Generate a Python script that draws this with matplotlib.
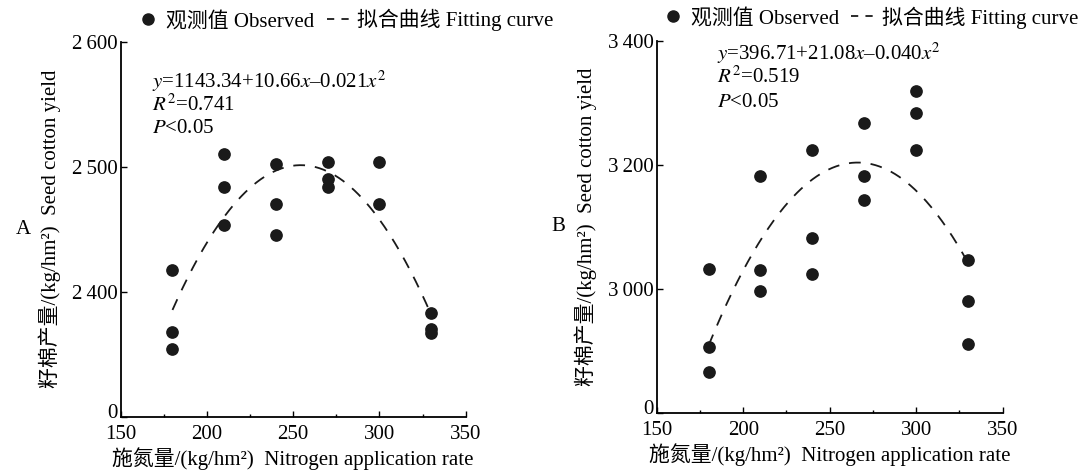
#!/usr/bin/env python3
import numpy as np
import matplotlib
matplotlib.use('Agg')
import matplotlib.pyplot as plt
import matplotlib.transforms as mtrans
from matplotlib.lines import Line2D

plt.rcParams['font.family'] = ['Liberation Serif', 'Noto Sans CJK SC']
plt.rcParams['mathtext.fontset'] = 'stix'

# nitrogen rate, kg/hm2
nA = [180, 180, 180, 210, 210, 210, 240, 240, 240, 270, 270, 270, 300, 300, 330, 330, 330]
yieldA = [2417, 2368, 2354, 2510, 2484, 2453, 2502, 2470, 2445, 2504, 2490, 2484, 2504, 2470, 2383, 2370, 2367]

nB = [180, 180, 180, 210, 210, 210, 240, 240, 240, 270, 270, 270, 300, 300, 300, 330, 330, 330]
yieldB = [3031, 2906, 2866, 3181, 3030, 2997, 3223, 3082, 3023, 3268, 3181, 3143, 3319, 3284, 3223, 3047, 2980, 2911]

xticks = [150, 200, 250, 300, 350]
yticksA = [2300, 2400, 2500, 2600]
ytickLabelsA = ['0', '2\u2009400', '2\u2009500', '2\u2009600']
yticksB = [2800, 3000, 3200, 3400]
ytickLabelsB = ['0', '3\u2009000', '3\u2009200', '3\u2009400']

eqA = ['$y$=1143.34+10.66$x$–0.021$x^2$', '$R^2$=0.741', '$P$<0.05']
eqB = ['$y$=396.71+21.08$x$–0.040$x^2$', '$R^2$=0.519', '$P$<0.05']

xlabel = '施氮量/(kg/hm²)  Nitrogen application rate'
ylabel = '籽棉产量/(kg/hm²)  Seed cotton yield'

FS = 15


def panel(ax, x, y, yt, ytl, eq, letter, eqpos, eqstep, legpos):
    x = np.array(x)
    y = np.array(y)
    ax.scatter(x, y, s=66, color='#1a1a1a', zorder=3)
    c = np.polyfit(x, y, 2)
    xx = np.linspace(180, 330, 200)
    ax.plot(xx, np.polyval(c, xx), color='#1a1a1a', lw=1.3, dashes=(6.5, 5.5))

    ax.set_xlim(150, 350)
    ax.set_ylim(yt[0], yt[-1])
    ax.set_xticks(xticks)
    ax.set_xticks([175, 225, 275, 325], minor=True)
    ax.set_yticks(yt)
    ax.set_yticklabels(ytl)
    ax.tick_params(axis='x', direction='in', length=4, width=1, labelsize=FS, pad=6)
    ax.tick_params(axis='y', direction='in', length=4, width=1, labelsize=FS, pad=2)
    ax.tick_params(which='minor', direction='in', length=2.5, width=1)
    for s in ['top', 'right']:
        ax.spines[s].set_visible(False)
    for s in ['left', 'bottom']:
        ax.spines[s].set_linewidth(1.3)

    # the "0" at the broken axis sits a little above its tick
    lab0 = ax.get_yticklabels()[0]
    lab0.set_transform(lab0.get_transform() +
                       mtrans.ScaledTranslation(0, 4 / 72, ax.figure.dpi_scale_trans))

    ax.set_xlabel(xlabel, fontsize=FS, labelpad=2)
    ax.set_ylabel(ylabel, fontsize=FS, labelpad=8)
    ax.text(-0.305, 0.5, letter, transform=ax.transAxes, fontsize=FS, va='center', ha='left')

    for i, t in enumerate(eq):
        ax.text(eqpos[0], eqpos[1] - i * eqstep, t, transform=ax.transAxes, fontsize=FS,
                family='Liberation Serif', va='center')

    handles = [Line2D([], [], marker='o', ls='none', color='#1a1a1a', markersize=8),
               Line2D([], [], color='#1a1a1a', lw=1.3, dashes=(4, 4))]
    ax.legend(handles, ['观测值 Observed', '拟合曲线 Fitting curve'], ncol=2, frameon=False,
              loc='center left', bbox_to_anchor=legpos, bbox_transform=ax.figure.transFigure,
              handlelength=1.2, handletextpad=0.25, columnspacing=0.6, borderpad=0,
              borderaxespad=0, fontsize=FS)


fig = plt.figure(figsize=(10.79, 4.73), dpi=100)
axA = fig.add_axes([0.1119, 0.119, 0.3197, 0.793])
axB = fig.add_axes([0.6086, 0.1275, 0.3207, 0.7865])

panel(axA, nA, yieldA, yticksA, ytickLabelsA, eqA, 'A', (0.09, 0.893), 0.062, (0.126, 0.957))
panel(axB, nB, yieldB, yticksB, ytickLabelsB, eqB, 'B', (0.175, 0.967), 0.066, (0.612, 0.963))

fig.savefig('out.png', dpi=100)
